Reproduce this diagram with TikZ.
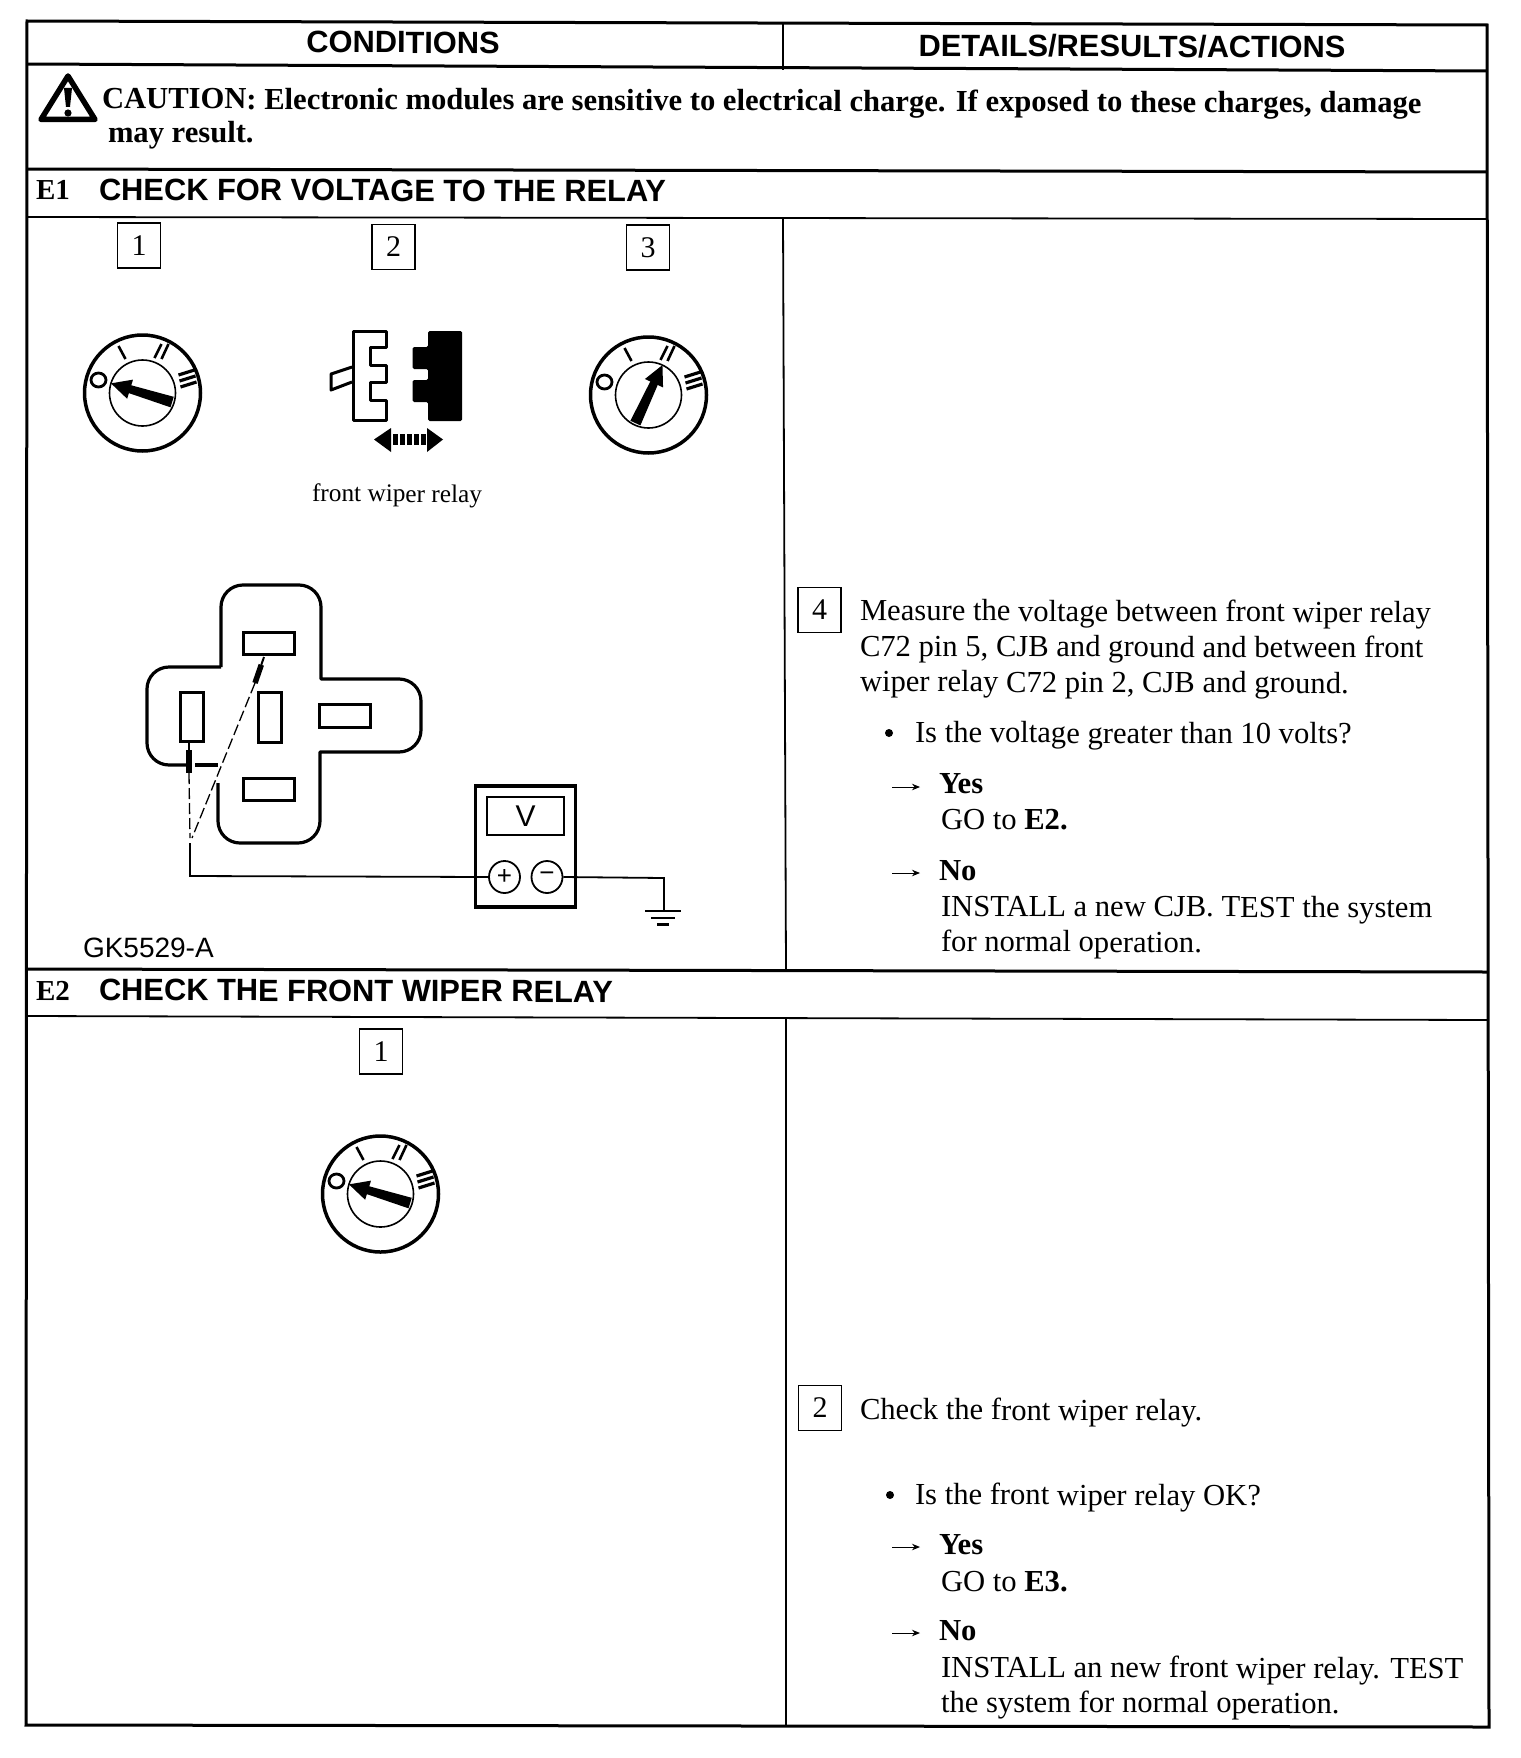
\documentclass[tikz,border=0pt]{standalone}
\usepackage{fontspec}
\setmainfont{Liberation Serif}
\setsansfont{Liberation Sans}
\usetikzlibrary{calc,shapes.geometric,arrows.meta}
\newcommand{\swdial}[4]{% name, center x, center y, arrow rotation
  \begin{scope}[shift={(#2,#3)}]
    \node[swouter] (#1) at (0,0) {};
    \node[swinner] (#1in) at (0,0) {};
    \node[swoff] (#1o) at (-44,-13) {};
    \draw[swtick] (-24,-47) -- (-17,-34);
    \draw[swtick] (19,-49) -- (12,-35);
    \draw[swtick] (26,-49) -- (19,-34);
    \draw[swtick2] (36,-18) -- (52,-23);
    \draw[swtick2] (37,-12) -- (53,-17);
    \draw[swtick2] (38,-6) -- (54,-11);
    \begin{scope}[rotate=#4]
      \fill (-16,-4) -- (31,-5.5) -- (31,5.5) -- (-16,4) -- cycle;
      \fill (-33,0) -- (-13,-10) -- (-13,10) -- cycle;
    \end{scope}
  \end{scope}}
\tikzset{
  tbl/.style={line width=3pt,black},
  thin tbl/.style={line width=1.8pt,black},
  txt/.style={anchor=base west,inner sep=0pt,outer sep=0pt,font=\fontsize{30.6}{30.6}\selectfont,rotate=-0.2},
  btxt/.style={txt,font=\fontsize{30.6}{30.6}\selectfont\bfseries},
  etxt/.style={txt,font=\fontsize{29}{29}\selectfont\bfseries},
  hdr/.style={anchor=base,inner sep=0pt,font=\fontsize{30.8}{30.8}\selectfont\sffamily\bfseries,rotate=-0.2},
  sect/.style={txt,font=\fontsize{30.8}{30.8}\selectfont\sffamily\bfseries},
  stepbox/.style={draw,line width=1.5pt,minimum width=43pt,minimum height=45pt,inner sep=0pt,font=\fontsize{30}{30}\selectfont},
  swouter/.style={draw,circle,line width=3.5pt,minimum size=116pt,inner sep=0pt},
  swinner/.style={draw,circle,line width=1.6pt,minimum size=66pt,inner sep=0pt},
  swoff/.style={draw,ellipse,line width=2.8pt,minimum width=15pt,minimum height=14pt,inner sep=0pt},
  swtick/.style={line width=2.6pt},
  swtick2/.style={line width=3.2pt},
  outline/.style={line width=3.2pt,line join=round},
  slot/.style={draw,line width=3.2pt,inner sep=0pt},
  probe/.style={line width=6pt},
  wire/.style={line width=1.8pt},
  dwire/.style={line width=1.3pt,dash pattern=on 11pt off 4pt},
  meterc/.style={draw,ellipse,line width=1.8pt,minimum width=31pt,minimum height=32pt,inner sep=0pt,font=\fontsize{26}{26}\selectfont\sffamily},
  bul/.style={circle,fill,minimum size=8pt,inner sep=0pt},
  yarr/.style={line width=1pt,-{Stealth[length=8pt,width=6.5pt]}},
}
\begin{document}
\begin{tikzpicture}[x=1pt,y=-1pt]
\useasboundingbox (0,0) rectangle (1520,1758);
\fill[white] (0,0) rectangle (1520,1758);
% table
\draw[tbl] (27,21) -- (1487,25) -- (1489,1727) -- (26,1725) -- cycle;
\draw[tbl] (27,64) -- (1487,71);
\draw[tbl] (27,169) -- (1487,172);
\draw[thin tbl] (27,217) -- (1487,219);
\draw[tbl] (26,969) -- (1488,972);
\draw[thin tbl] (26,1016) -- (1488,1020);
\draw[thin tbl] (783,24) -- (783,70);
\draw[thin tbl] (783,218) -- (786,971);
\draw[thin tbl] (786,1019) -- (786,1726);
% header
\node[hdr] (cond) at (403,53) {CONDITIONS};
\node[hdr] (det) at (1132,57) {DETAILS/RESULTS/ACTIONS};
% caution
\draw[line width=5.5pt,line join=round] (68,76) -- (41,119.5) -- (95,119.5) -- cycle;
\fill (64,88) -- (72,88) -- (70,107) -- (66,107) -- cycle;
\fill (68,113) circle (3.6);
\node[btxt] (caut1) at (102,108.5) {CAUTION: Electronic modules are sensitive to electrical charge. If exposed to these charges, damage};
\node[btxt] (caut2) at (108,142) {may result.};
% E1
\node[etxt] (e1) at (36,199) {E1};
\node[sect] (e1t) at (99,200) {CHECK FOR VOLTAGE TO THE RELAY};
\node[stepbox] (s1) at (139,245.5) {1};
\node[stepbox] (s2) at (393.5,247) {2};
\node[stepbox] (s3) at (648,247.5) {3};
\swdial{d1}{142.5}{393}{-17}
\swdial{d3}{648.5}{395}{-115}
% relay
\draw[line width=3pt,line join=round] (353.5,331) -- (386,331) -- (386,347) -- (370,347) -- (370,365) -- (386,365) -- (386,382) -- (370,382) -- (370,400) -- (386,400) -- (386,420) -- (353.5,420) -- cycle;
\draw[line width=3pt,line join=round] (352,367) -- (331,374) -- (331,390) -- (352,382);
\fill[rounded corners=1.5pt] (428,331) -- (462,331) -- (462,421) -- (428,421) -- (428,402) -- (412.5,402) -- (412.5,380) -- (428,380) -- (428,369) -- (412.5,369) -- (412.5,347) -- (428,347) -- cycle;
\fill (374,439.5) -- (391,428) -- (391,452) -- cycle;
\fill (443,439.5) -- (427,428) -- (427,452) -- cycle;
\foreach \x in {393,400,407,414,421} \fill (\x,434) rectangle ++(5,11);
\node[txt,anchor=base,font=\fontsize{25.3}{25.3}\selectfont] (lbl) at (397,502) {front wiper relay};
% connector
\draw[outline] (221,667) [rounded corners=22pt] -- (221,585) -- (321,585) [sharp corners] -- (321,679) [rounded corners=22pt] -- (421,679) -- (421,752) [sharp corners] -- (320,752) [rounded corners=22pt] -- (320,843) -- (218,843) [sharp corners] -- (218,783);
\draw[outline] (221,667) [rounded corners=22pt] -- (147,667) -- (147,765) [sharp corners] -- (186,765);
\draw[outline] (195,765) -- (218,765);
\node[slot,minimum width=51pt,minimum height=22pt] (p1) at (269,643.5) {};
\node[slot,minimum width=23pt,minimum height=49pt] (p2) at (192,717) {};
\node[slot,minimum width=23pt,minimum height=50pt] (p3) at (270,717.5) {};
\node[slot,minimum width=51pt,minimum height=23pt] (p4) at (345,716) {};
\node[slot,minimum width=51pt,minimum height=22pt] (p5) at (269,789.5) {};
% probes
\coordinate (t1) at (264,657);
\coordinate (t1b) at (255,683);
\coordinate (t2) at (189,743);
\coordinate (t2b) at (189,773);
\coordinate (j) at (192,838);
\coordinate (c) at (190,843);
\coordinate (k) at (190,876);
\draw[line width=2pt] (t1) -- ($(t1)!0.3!(t1b)$);
\draw[line width=5.5pt] ($(t1)!0.3!(t1b)$) -- (t1b);
\draw[line width=2pt] (t2) -- (189,750);
\draw[probe] (189,750) -- (t2b);
\draw[dwire] (t1b) -- (j);
\draw[dwire] (t2b) -- (190,838);
% meter
\node[draw,line width=3.5pt,minimum width=100pt,minimum height=121pt,inner sep=0pt] (meter) at (525.5,846.5) {};
\node[draw,line width=1.8pt,minimum width=77pt,minimum height=38pt,inner sep=0pt,font=\fontsize{30}{30}\selectfont\sffamily] (disp) at (525.5,816) {V};
\node[meterc] (plus) at (504.5,877) {+};
\node[meterc] (minus) at (547,877) {\textminus};
\coordinate (gnd) at (664,878);
\coordinate (gndb) at (664,911);
\draw[wire] (c) -- (k) -- (plus.west);
\draw[wire] (minus.east) -- (gnd) -- (gndb);
\draw[line width=2.8pt] (645,911) -- (681,911);
\draw[line width=2.8pt] (651,918) -- (675,918);
\draw[line width=2.8pt] (657,924.5) -- (669,924.5);
\node[txt,font=\fontsize{28}{28}\selectfont\sffamily] (gk) at (83,957) {GK5529-A};
% E1 right
\node[stepbox] (s4) at (819.5,610) {4};
\node[txt] (m1) at (860,620.5) {Measure the voltage between front wiper relay};
\node[txt] (m2) at (860,656) {C72 pin 5, CJB and ground and between front};
\node[txt] (m3) at (860,691.5) {wiper relay C72 pin 2, CJB and ground.};
\node[bul] (b1) at (889,733) {};
\node[txt] (q1) at (915,742.5) {Is the voltage greater than 10 volts?};
\coordinate (a1s) at (892,787); \coordinate (a1e) at (920,787);
\draw[yarr] (a1s) -- (a1e);
\node[btxt] (y1) at (939,793.5) {Yes};
\node[txt] (g1) at (941,829) {GO to \textbf{E2.}};
\coordinate (a2s) at (892,873); \coordinate (a2e) at (920,873);
\draw[yarr] (a2s) -- (a2e);
\node[btxt] (n1) at (939,880) {No};
\node[txt] (i1) at (941,916) {INSTALL a new CJB. TEST the system};
\node[txt] (i2) at (941,951.5) {for normal operation.};
% E2
\node[etxt] (e2) at (36,1000) {E2};
\node[sect] (e2t) at (99,1000.5) {CHECK THE FRONT WIPER RELAY};
\node[stepbox] (s5) at (381,1051.5) {1};
\swdial{d5}{380.5}{1194}{-17}
\node[stepbox] (s6) at (820,1408) {2};
\node[txt] (c1) at (860,1419.5) {Check the front wiper relay.};
\node[bul] (b2) at (890,1495) {};
\node[txt] (q2) at (915,1504.5) {Is the front wiper relay OK?};
\coordinate (a3s) at (892,1547); \coordinate (a3e) at (920,1547);
\draw[yarr] (a3s) -- (a3e);
\node[btxt] (y2) at (939,1554.5) {Yes};
\node[txt] (g2) at (941,1591) {GO to \textbf{E3.}};
\coordinate (a4s) at (892,1633); \coordinate (a4e) at (920,1633);
\draw[yarr] (a4s) -- (a4e);
\node[btxt] (n2) at (939,1640.5) {No};
\node[txt] (i3) at (941,1677) {INSTALL an new front wiper relay. TEST};
\node[txt] (i4) at (941,1712) {the system for normal operation.};
\end{tikzpicture}
\end{document}
